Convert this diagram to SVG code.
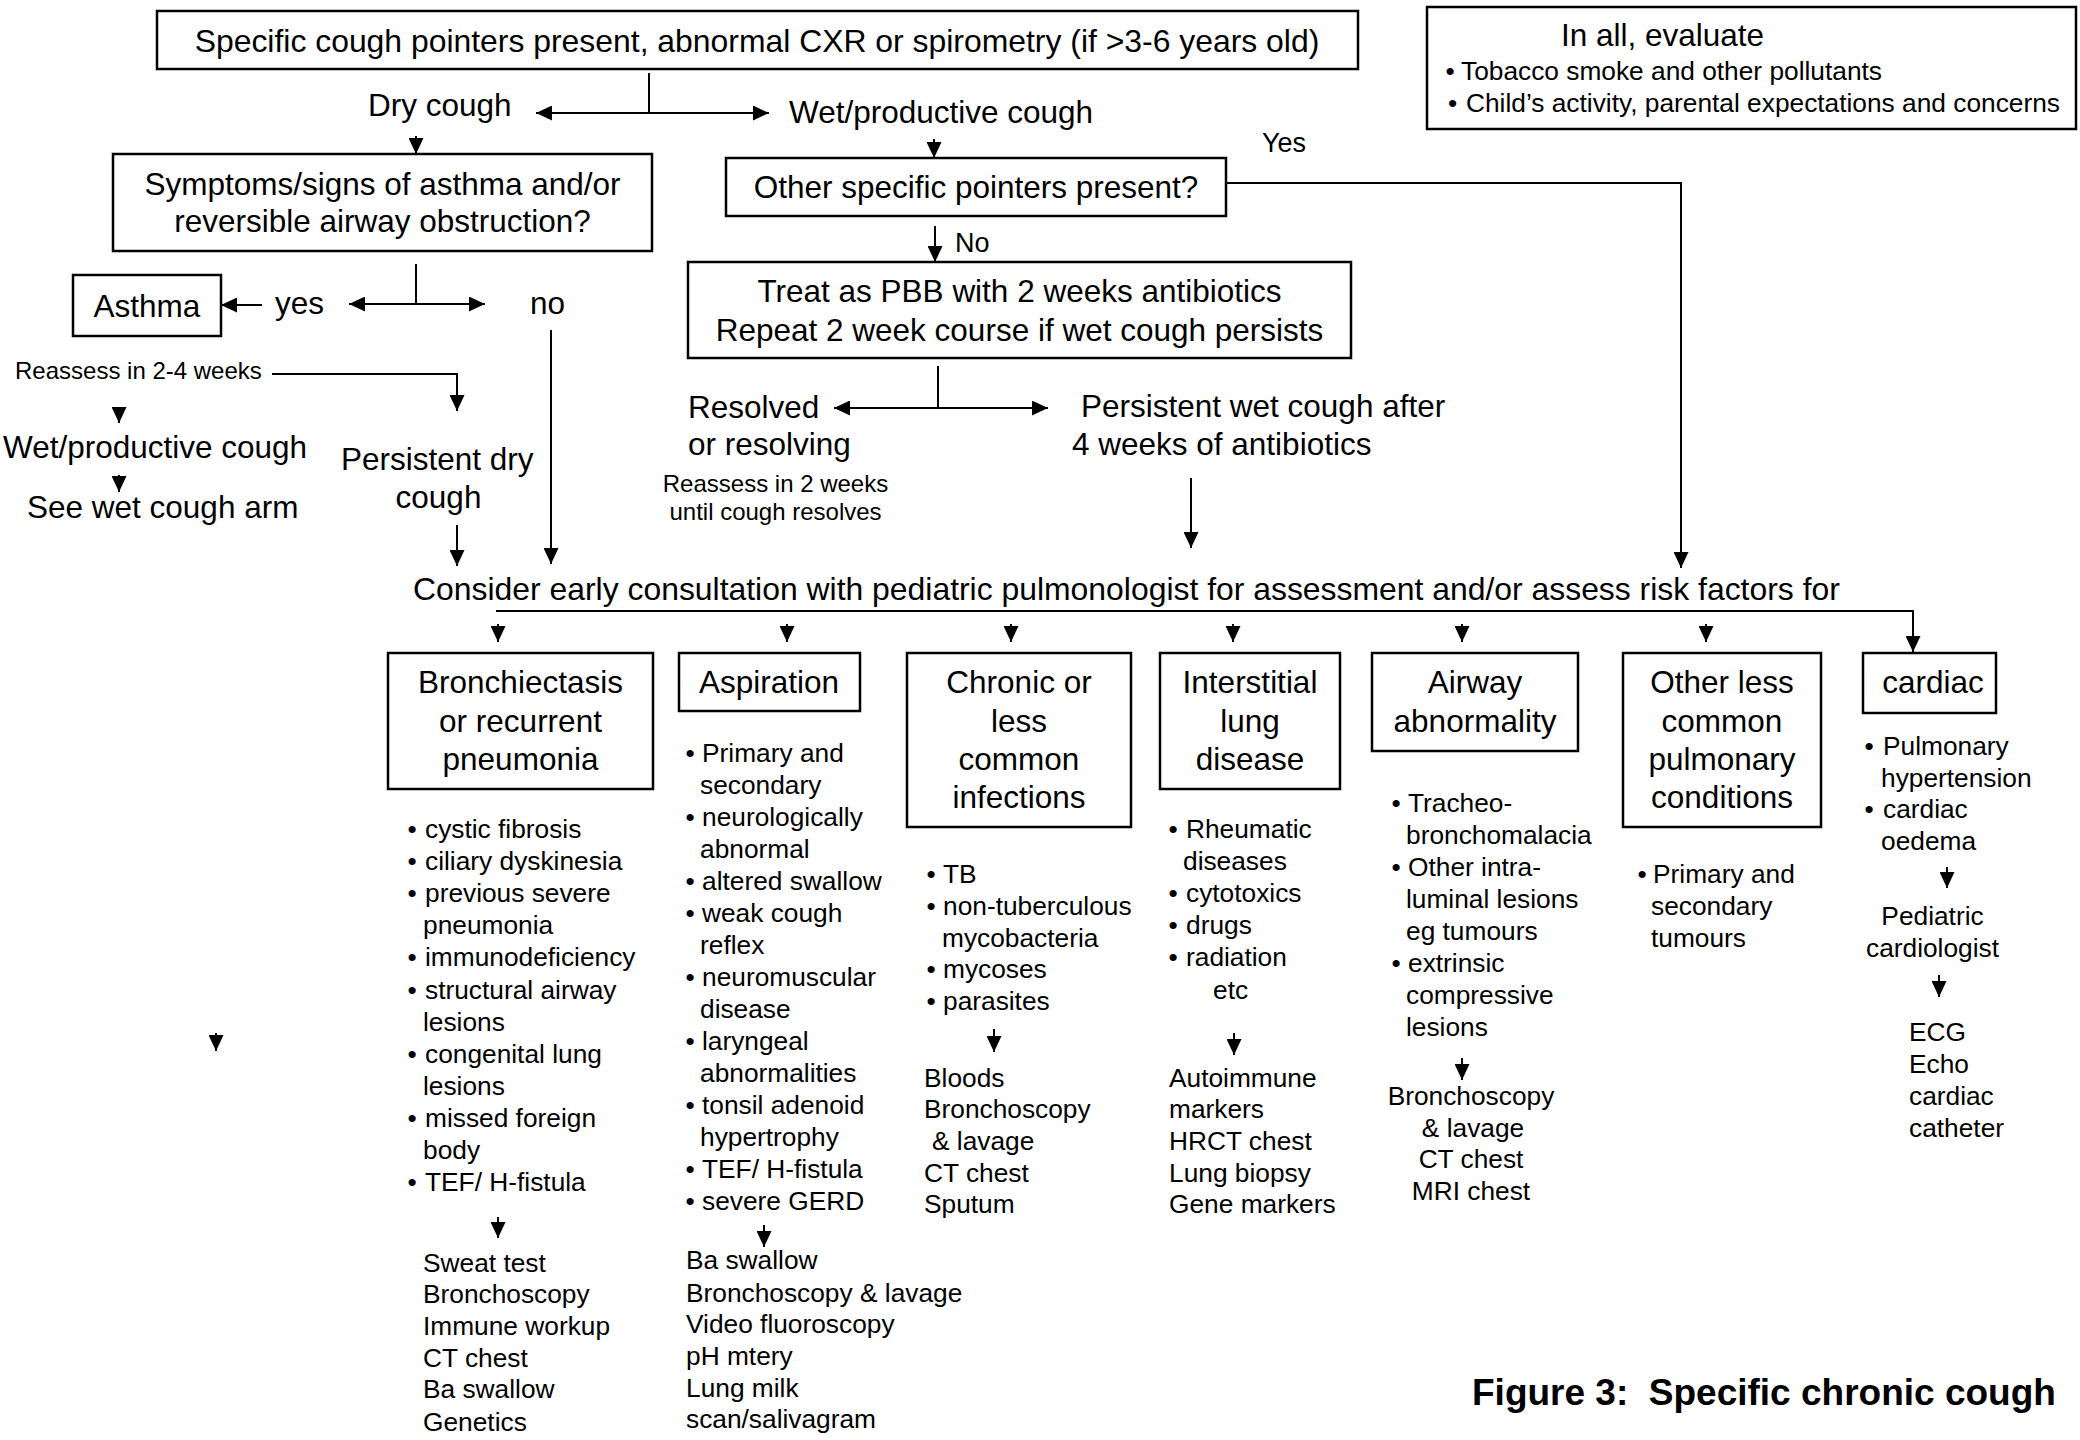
<svg xmlns="http://www.w3.org/2000/svg" width="2080" height="1440" viewBox="0 0 2080 1440">
<style>
.t{font-family:"Liberation Sans",Arial,sans-serif;fill:#000}
.L{font-size:31.5px}
.S{font-size:26.3px}
.R{font-size:24px}
.Y{font-size:27px}
.c{text-anchor:middle}
.box{fill:#fff;stroke:#000;stroke-width:2.5}
.ln{fill:none;stroke:#000;stroke-width:2}
</style>
<defs>
<marker id="ah" viewBox="0 0 16 15" refX="16" refY="7.5" markerWidth="16" markerHeight="15" markerUnits="userSpaceOnUse" orient="auto-start-reverse">
<path d="M0,0 L16,7.5 L0,15 z" fill="#000"/>
</marker>
</defs>
<rect width="2080" height="1440" fill="#fff"/>

<g id="connectors">
<path class="ln" d="M649,73 V113"/>
<path class="ln" d="M536,113 H769" marker-start="url(#ah)" marker-end="url(#ah)"/>
<path class="ln" d="M416,136 V154" marker-end="url(#ah)"/>
<path class="ln" d="M934,139 V158" marker-end="url(#ah)"/>
<path class="ln" d="M1206,183 H1681 V568" marker-end="url(#ah)"/>
<path class="ln" d="M935,226 V262" marker-end="url(#ah)"/>
<path class="ln" d="M938,366 V408"/>
<path class="ln" d="M834,408 H1048" marker-start="url(#ah)" marker-end="url(#ah)"/>
<path class="ln" d="M1191,478 V548" marker-end="url(#ah)"/>
<path class="ln" d="M262,305 H221" marker-end="url(#ah)"/>
<path class="ln" d="M416,264 V304"/>
<path class="ln" d="M349,304 H485" marker-start="url(#ah)" marker-end="url(#ah)"/>
<path class="ln" d="M551,330 V564" marker-end="url(#ah)"/>
<path class="ln" d="M272,374 H457 V411" marker-end="url(#ah)"/>
<path class="ln" d="M119,407 V423" marker-end="url(#ah)"/>
<path class="ln" d="M119,475 V492" marker-end="url(#ah)"/>
<path class="ln" d="M457,525 V566" marker-end="url(#ah)"/>
<path class="ln" d="M496,611 H1913 V652" marker-end="url(#ah)"/>
<path class="ln" d="M498,624 V642" marker-end="url(#ah)"/>
<path class="ln" d="M787,624 V642" marker-end="url(#ah)"/>
<path class="ln" d="M1011,624 V642" marker-end="url(#ah)"/>
<path class="ln" d="M1233,624 V642" marker-end="url(#ah)"/>
<path class="ln" d="M1462,624 V642" marker-end="url(#ah)"/>
<path class="ln" d="M1706,624 V642" marker-end="url(#ah)"/>
<path class="ln" d="M498,1217 V1238" marker-end="url(#ah)"/>
<path class="ln" d="M764,1225 V1247" marker-end="url(#ah)"/>
<path class="ln" d="M994,1029 V1052" marker-end="url(#ah)"/>
<path class="ln" d="M1234,1033 V1055" marker-end="url(#ah)"/>
<path class="ln" d="M1462,1058 V1080" marker-end="url(#ah)"/>
<path class="ln" d="M1947,867 V888" marker-end="url(#ah)"/>
<path class="ln" d="M1939,975 V997" marker-end="url(#ah)"/>
<path class="ln" d="M216,1033 V1051" marker-end="url(#ah)"/>
</g>

<g id="n-top">
<rect class="box" x="157" y="11" width="1201" height="58"/>
<text class="t c" x="757" y="52" style="font-size:31.9px">Specific cough pointers present, abnormal CXR or spirometry (if &gt;3-6 years old)</text>
</g>

<g id="n-evaluate">
<rect class="box" x="1427" y="7" width="649" height="122"/>
<text class="t" x="1561" y="46" style="font-size:31.5px">In all, evaluate</text>
<text class="t S" y="80"><tspan x="1445.5">•</tspan><tspan x="1461">Tobacco smoke and other pollutants</tspan></text>
<text class="t S" y="112"><tspan x="1448">•</tspan><tspan x="1466">Child’s activity, parental expectations and concerns</tspan></text>
</g>

<g id="n-dry"><text class="t L" x="368" y="116">Dry cough</text></g>
<g id="n-wet"><text class="t L" x="789" y="123">Wet/productive cough</text></g>

<g id="n-symptoms">
<rect class="box" x="113" y="154" width="539" height="97"/>
<text class="t L c" x="382.5" y="195">Symptoms/signs of asthma and/or</text>
<text class="t L c" x="382.5" y="232">reversible airway obstruction?</text>
</g>

<g id="n-other">
<rect class="box" x="726" y="158" width="500" height="58"/>
<text class="t L c" x="976" y="198">Other specific pointers present?</text>
</g>
<g id="l-yes"><text class="t Y" x="1262" y="152">Yes</text></g>
<g id="l-no"><text class="t Y" x="955" y="252">No</text></g>

<g id="n-treat">
<rect class="box" x="688" y="262" width="663" height="96"/>
<text class="t L c" x="1019.5" y="302">Treat as PBB with 2 weeks antibiotics</text>
<text class="t L c" x="1019.5" y="341">Repeat 2 week course if wet cough persists</text>
</g>

<g id="n-resolved">
<text class="t L" x="688" y="418">Resolved</text>
<text class="t L" x="688" y="455">or resolving</text>
<text class="t R c" x="775.5" y="492">Reassess in 2 weeks</text>
<text class="t R c" x="775.5" y="520">until cough resolves</text>
</g>

<g id="n-persistwet">
<text class="t L" x="1081" y="417">Persistent wet cough after</text>
<text class="t L" x="1072" y="455">4 weeks of antibiotics</text>
</g>

<g id="n-asthma">
<rect class="box" x="73" y="275" width="148" height="61"/>
<text class="t L c" x="147" y="317">Asthma</text>
</g>
<g id="l-yes2"><text class="t L" x="275" y="314">yes</text></g>
<g id="l-no2"><text class="t L" x="530" y="314">no</text></g>

<g id="n-reassess"><text class="t R" x="15" y="379">Reassess in 2-4 weeks</text></g>
<g id="n-wet2"><text class="t L" x="3" y="458">Wet/productive cough</text></g>
<g id="n-seewet"><text class="t L" x="27" y="518">See wet cough arm</text></g>
<g id="n-persistdry">
<text class="t L" x="341" y="470">Persistent dry</text>
<text class="t L c" x="438.5" y="508">cough</text>
</g>

<g id="n-consider"><text class="t" x="413" y="600" style="font-size:31.9px">Consider early consultation with pediatric pulmonologist for assessment and/or assess risk factors for</text></g>

<g id="n-bronch">
<rect class="box" x="388" y="653" width="265" height="136"/>
<text class="t L c" x="520.5" y="693">Bronchiectasis</text>
<text class="t L c" x="520.5" y="732">or recurrent</text>
<text class="t L c" x="520.5" y="770">pneumonia</text>
<text class="t S" y="838"><tspan x="407.5">•</tspan><tspan x="425">cystic fibrosis</tspan></text>
<text class="t S" y="870"><tspan x="407.5">•</tspan><tspan x="425">ciliary dyskinesia</tspan></text>
<text class="t S" y="902"><tspan x="407.5">•</tspan><tspan x="425">previous severe</tspan></text>
<text class="t S" x="423" y="934">pneumonia</text>
<text class="t S" y="966"><tspan x="407.5">•</tspan><tspan x="425">immunodeficiency</tspan></text>
<text class="t S" y="999"><tspan x="407.5">•</tspan><tspan x="425">structural airway</tspan></text>
<text class="t S" x="423" y="1031">lesions</text>
<text class="t S" y="1063"><tspan x="407.5">•</tspan><tspan x="425">congenital lung</tspan></text>
<text class="t S" x="423" y="1095">lesions</text>
<text class="t S" y="1127"><tspan x="407.5">•</tspan><tspan x="425">missed foreign</tspan></text>
<text class="t S" x="423" y="1159">body</text>
<text class="t S" y="1191"><tspan x="407.5">•</tspan><tspan x="425">TEF/ H-fistula</tspan></text>
<text class="t S" x="423" y="1272">Sweat test</text>
<text class="t S" x="423" y="1303">Bronchoscopy</text>
<text class="t S" x="423" y="1335">Immune workup</text>
<text class="t S" x="423" y="1367">CT chest</text>
<text class="t S" x="423" y="1398">Ba swallow</text>
<text class="t S" x="423" y="1431">Genetics</text>
</g>

<g id="n-aspiration">
<rect class="box" x="679" y="653" width="181" height="58"/>
<text class="t L c" x="769" y="693">Aspiration</text>
<text class="t S" y="762"><tspan x="685.5">•</tspan><tspan x="702">Primary and</tspan></text>
<text class="t S" x="700" y="794">secondary</text>
<text class="t S" y="826"><tspan x="685.5">•</tspan><tspan x="702">neurologically</tspan></text>
<text class="t S" x="700" y="858">abnormal</text>
<text class="t S" y="890"><tspan x="685.5">•</tspan><tspan x="702">altered swallow</tspan></text>
<text class="t S" y="922"><tspan x="685.5">•</tspan><tspan x="702">weak cough</tspan></text>
<text class="t S" x="700" y="954">reflex</text>
<text class="t S" y="986"><tspan x="685.5">•</tspan><tspan x="702">neuromuscular</tspan></text>
<text class="t S" x="700" y="1018">disease</text>
<text class="t S" y="1050"><tspan x="685.5">•</tspan><tspan x="702">laryngeal</tspan></text>
<text class="t S" x="700" y="1082">abnormalities</text>
<text class="t S" y="1114"><tspan x="685.5">•</tspan><tspan x="702">tonsil adenoid</tspan></text>
<text class="t S" x="700" y="1146">hypertrophy</text>
<text class="t S" y="1178"><tspan x="685.5">•</tspan><tspan x="702">TEF/ H-fistula</tspan></text>
<text class="t S" y="1210"><tspan x="685.5">•</tspan><tspan x="702">severe GERD</tspan></text>
<text class="t S" x="686" y="1269">Ba swallow</text>
<text class="t S" x="686" y="1302">Bronchoscopy &amp; lavage</text>
<text class="t S" x="686" y="1333">Video fluoroscopy</text>
<text class="t S" x="686" y="1365">pH mtery</text>
<text class="t S" x="686" y="1397">Lung milk</text>
<text class="t S" x="686" y="1428">scan/salivagram</text>
</g>

<g id="n-chronic">
<rect class="box" x="907" y="653" width="224" height="174"/>
<text class="t L c" x="1019" y="693">Chronic or</text>
<text class="t L c" x="1019" y="732">less</text>
<text class="t L c" x="1019" y="770">common</text>
<text class="t L c" x="1019" y="808">infections</text>
<text class="t S" y="883"><tspan x="926.5">•</tspan><tspan x="943">TB</tspan></text>
<text class="t S" y="915"><tspan x="926.5">•</tspan><tspan x="943">non-tuberculous</tspan></text>
<text class="t S" x="942" y="947">mycobacteria</text>
<text class="t S" y="978"><tspan x="926.5">•</tspan><tspan x="943">mycoses</tspan></text>
<text class="t S" y="1010"><tspan x="926.5">•</tspan><tspan x="943">parasites</tspan></text>
<text class="t S" x="924" y="1087">Bloods</text>
<text class="t S" x="924" y="1118">Bronchoscopy</text>
<text class="t S" x="932" y="1150">&amp; lavage</text>
<text class="t S" x="924" y="1182">CT chest</text>
<text class="t S" x="924" y="1213">Sputum</text>
</g>

<g id="n-interstitial">
<rect class="box" x="1160" y="653" width="180" height="136"/>
<text class="t L c" x="1250" y="693">Interstitial</text>
<text class="t L c" x="1250" y="732">lung</text>
<text class="t L c" x="1250" y="770">disease</text>
<text class="t S" y="838"><tspan x="1168.5">•</tspan><tspan x="1186">Rheumatic</tspan></text>
<text class="t S" x="1183" y="870">diseases</text>
<text class="t S" y="902"><tspan x="1168.5">•</tspan><tspan x="1186">cytotoxics</tspan></text>
<text class="t S" y="934"><tspan x="1168.5">•</tspan><tspan x="1186">drugs</tspan></text>
<text class="t S" y="966"><tspan x="1168.5">•</tspan><tspan x="1186">radiation</tspan></text>
<text class="t S" x="1213" y="999">etc</text>
<text class="t S" x="1169" y="1087">Autoimmune</text>
<text class="t S" x="1169" y="1118">markers</text>
<text class="t S" x="1169" y="1150">HRCT chest</text>
<text class="t S" x="1169" y="1182">Lung biopsy</text>
<text class="t S" x="1169" y="1213">Gene markers</text>
</g>

<g id="n-airway">
<rect class="box" x="1372" y="653" width="206" height="98"/>
<text class="t L c" x="1475" y="693">Airway</text>
<text class="t L c" x="1475" y="732">abnormality</text>
<text class="t S" y="812"><tspan x="1391.5">•</tspan><tspan x="1408">Tracheo-</tspan></text>
<text class="t S" x="1406" y="844">bronchomalacia</text>
<text class="t S" y="876"><tspan x="1391.5">•</tspan><tspan x="1408">Other intra-</tspan></text>
<text class="t S" x="1406" y="908">luminal lesions</text>
<text class="t S" x="1406" y="940">eg tumours</text>
<text class="t S" y="972"><tspan x="1391.5">•</tspan><tspan x="1408">extrinsic</tspan></text>
<text class="t S" x="1406" y="1004">compressive</text>
<text class="t S" x="1406" y="1036">lesions</text>
<text class="t S c" x="1471" y="1105">Bronchoscopy</text>
<text class="t S c" x="1473" y="1137">&amp; lavage</text>
<text class="t S c" x="1471" y="1168">CT chest</text>
<text class="t S c" x="1471" y="1200">MRI chest</text>
</g>

<g id="n-otherless">
<rect class="box" x="1623" y="653" width="198" height="174"/>
<text class="t L c" x="1722" y="693">Other less</text>
<text class="t L c" x="1722" y="732">common</text>
<text class="t L c" x="1722" y="770">pulmonary</text>
<text class="t L c" x="1722" y="808">conditions</text>
<text class="t S" y="883"><tspan x="1637.5">•</tspan><tspan x="1653">Primary and</tspan></text>
<text class="t S" x="1651" y="915">secondary</text>
<text class="t S" x="1651" y="947">tumours</text>
</g>

<g id="n-cardiac">
<rect class="box" x="1863" y="653" width="133" height="60"/>
<text class="t L c" x="1933" y="693">cardiac</text>
<text class="t S" y="755"><tspan x="1864.5">•</tspan><tspan x="1883">Pulmonary</tspan></text>
<text class="t S" x="1881" y="787">hypertension</text>
<text class="t S" y="818"><tspan x="1864.5">•</tspan><tspan x="1883">cardiac</tspan></text>
<text class="t S" x="1881" y="850">oedema</text>
<text class="t S c" x="1932.5" y="925">Pediatric</text>
<text class="t S c" x="1932.5" y="957">cardiologist</text>
<text class="t S" x="1909" y="1041">ECG</text>
<text class="t S" x="1909" y="1073">Echo</text>
<text class="t S" x="1909" y="1105">cardiac</text>
<text class="t S" x="1909" y="1137">catheter</text>
</g>

<g id="caption">
<text class="t" x="1472" y="1405" style="font-size:37px;font-weight:bold" xml:space="preserve">Figure 3:  Specific chronic cough</text>
</g>
</svg>
